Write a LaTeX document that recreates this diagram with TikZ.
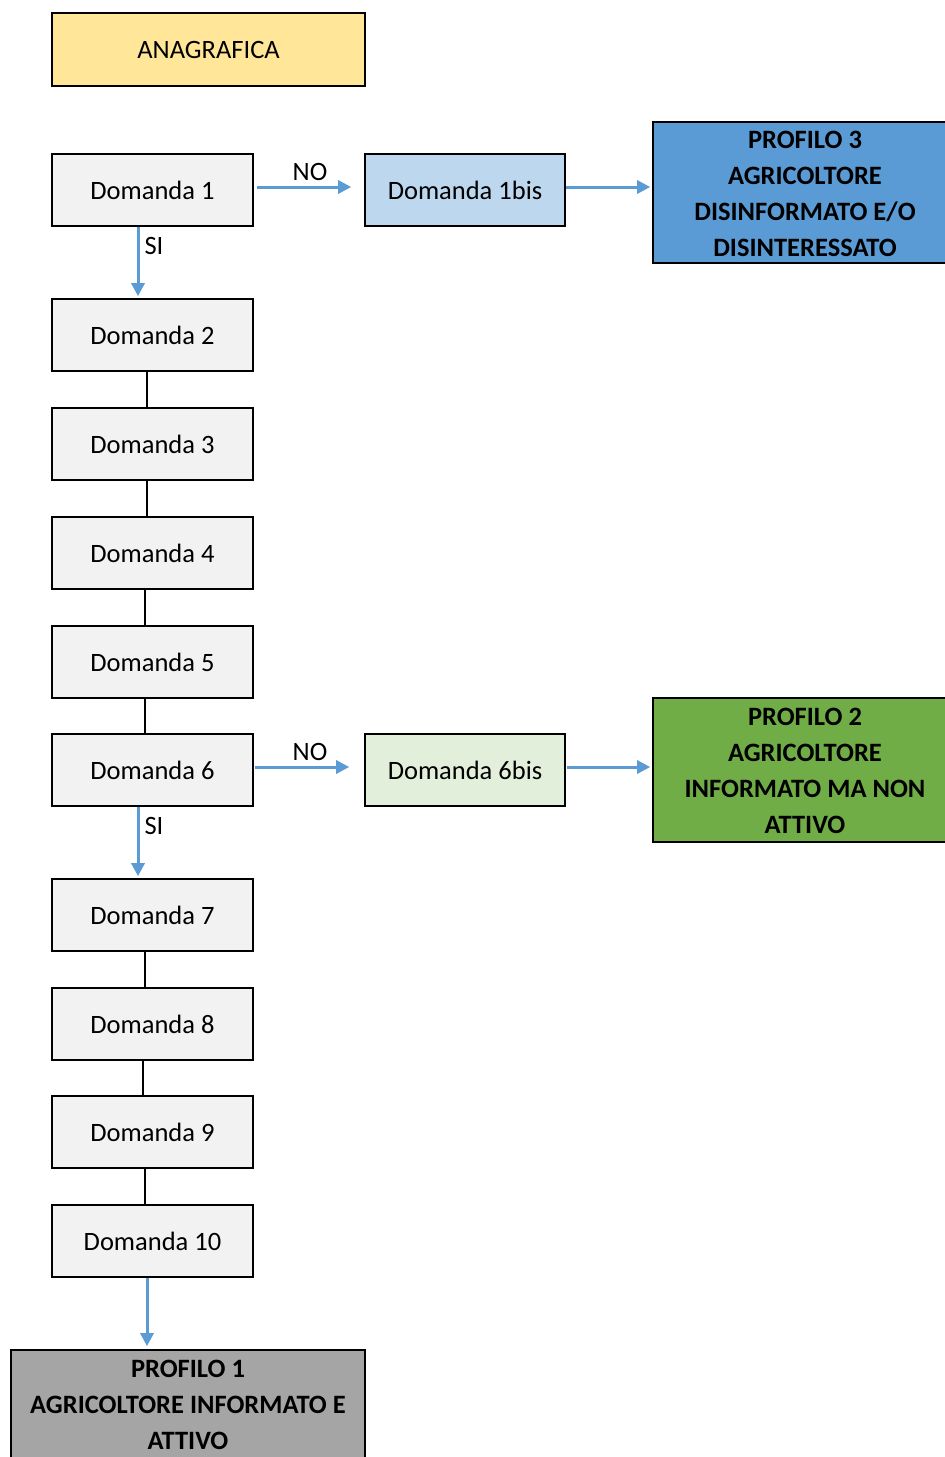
\documentclass[tikz,border=0pt]{standalone}
\usepackage{fontspec}
\setmainfont{Carlito}
\usetikzlibrary{arrows.meta,calc}
\definecolor{boxgray}{HTML}{F2F2F2}
\definecolor{anag}{HTML}{FFE699}
\definecolor{lblue}{HTML}{BDD7EE}
\definecolor{lgreen}{HTML}{E2EFDA}
\definecolor{pblue}{HTML}{5B9BD5}
\definecolor{pgreen}{HTML}{70AD47}
\definecolor{pgray}{HTML}{A5A5A5}
\definecolor{arrblue}{HTML}{5B9BD5}
\tikzset{
  qbox/.style={draw=black, line width=1.6pt, fill=boxgray, minimum width=201pt, minimum height=72pt, inner sep=0pt, font=\fontsize{26.5}{30}\selectfont},
  pbox/.style={draw=black, line width=1.6pt, inner sep=0pt},
  ptext/.style={align=center, font=\fontsize{26.5}{36}\selectfont\bfseries, inner sep=0pt},
  barrow/.style={draw=arrblue, line width=3pt, -{Triangle[length=13pt,width=13pt]}},
  bline/.style={draw=black, line width=1.1pt},
  lbl/.style={font=\fontsize{26.5}{30}\selectfont, inner sep=0pt}
}
\begin{document}
\begin{tikzpicture}[x=1pt,y=-1pt]
\useasboundingbox (0,0) rectangle (945,1457);
% anagrafica
\node[pbox, fill=anag, minimum width=313pt, minimum height=73pt, font=\fontsize{26.5}{30}\selectfont] (an) at (208.5,49.5) {ANAGRAFICA};
% domande
\node[qbox] (d1) at (152.5,190) {Domanda 1};
\node[qbox] (d2) at (152.5,335) {Domanda 2};
\node[qbox] (d3) at (152.5,444) {Domanda 3};
\node[qbox] (d4) at (152.5,553) {Domanda 4};
\node[qbox] (d5) at (152.5,662) {Domanda 5};
\node[qbox] (d6) at (152.5,770) {Domanda 6};
\node[qbox] (d7) at (152.5,915) {Domanda 7};
\node[qbox] (d8) at (152.5,1024) {Domanda 8};
\node[qbox] (d9) at (152.5,1132) {Domanda 9};
\node[qbox] (d10) at (152.5,1241) {Domanda 10};
\node[qbox, fill=lblue, minimum width=200pt] (d1b) at (465,190) {Domanda 1bis};
\node[qbox, fill=lgreen, minimum width=200pt] (d6b) at (465,770) {Domanda 6bis};
% profiles
\node[pbox, fill=pblue, minimum width=304pt, minimum height=141pt] (p3) at (805,192.5) {};
\node[ptext] (p3t) at (805,193.5) {PROFILO 3\\AGRICOLTORE\\DISINFORMATO E/O\\DISINTERESSATO};
\node[pbox, fill=pgreen, minimum width=304pt, minimum height=144pt] (p2) at (805,770) {};
\node[ptext] (p2t) at (805,771) {PROFILO 2\\AGRICOLTORE\\INFORMATO MA NON\\ATTIVO};
\node[pbox, fill=pgray, minimum width=354pt, minimum height=130pt] (p1) at (188,1415) {};
\node[ptext] (p1t) at (188,1405) {PROFILO 1\\AGRICOLTORE INFORMATO E\\ATTIVO};
% black connectors
\draw[bline] ([xshift=-5.5pt]d2.south) -- ([xshift=-5.5pt]d3.north);
\draw[bline] ([xshift=-5.5pt]d3.south) -- ([xshift=-5.5pt]d4.north);
\draw[bline] ([xshift=-7.5pt]d4.south) -- ([xshift=-7.5pt]d5.north);
\draw[bline] ([xshift=-7.5pt]d5.south) -- ([xshift=-7.5pt]d6.north);
\draw[bline] ([xshift=-7.5pt]d7.south) -- ([xshift=-7.5pt]d8.north);
\draw[bline] ([xshift=-9.5pt]d8.south) -- ([xshift=-9.5pt]d9.north);
\draw[bline] ([xshift=-7.5pt]d9.south) -- ([xshift=-7.5pt]d10.north);
% blue arrows
\coordinate (p1top) at ($(d10.south |- p1.north)+(-5.5,-3)$);
\draw[barrow] ([xshift=-14.5pt]d1.south) -- ([xshift=-14.5pt,yshift=2pt]d2.north) node[lbl, pos=0.28, right=5pt] (si1) {SI};
\draw[barrow] ([xshift=-14.5pt]d6.south) -- ([xshift=-14.5pt,yshift=2pt]d7.north) node[lbl, pos=0.28, right=5pt] (si2) {SI};
\draw[barrow] ([xshift=-5.5pt]d10.south) -- (p1top);
\draw[barrow] ([xshift=3pt,yshift=3pt]d1.east) -- ([xshift=-13pt,yshift=3pt]d1b.west) node[lbl, midway, above=5pt, xshift=6pt] (no1) {NO};
\draw[barrow] ([xshift=1pt,yshift=3pt]d6.east) -- ([xshift=-15pt,yshift=3pt]d6b.west) node[lbl, midway, above=5pt, xshift=8pt] (no2) {NO};
\draw[barrow] ([yshift=3pt]d1b.east) -- ([xshift=-2pt,yshift=3pt]d1b.east -| p3.west);
\draw[barrow] ([xshift=1pt,yshift=3pt]d6b.east) -- ([xshift=-2pt,yshift=3pt]d6b.east -| p2.west);
\end{tikzpicture}
\end{document}
